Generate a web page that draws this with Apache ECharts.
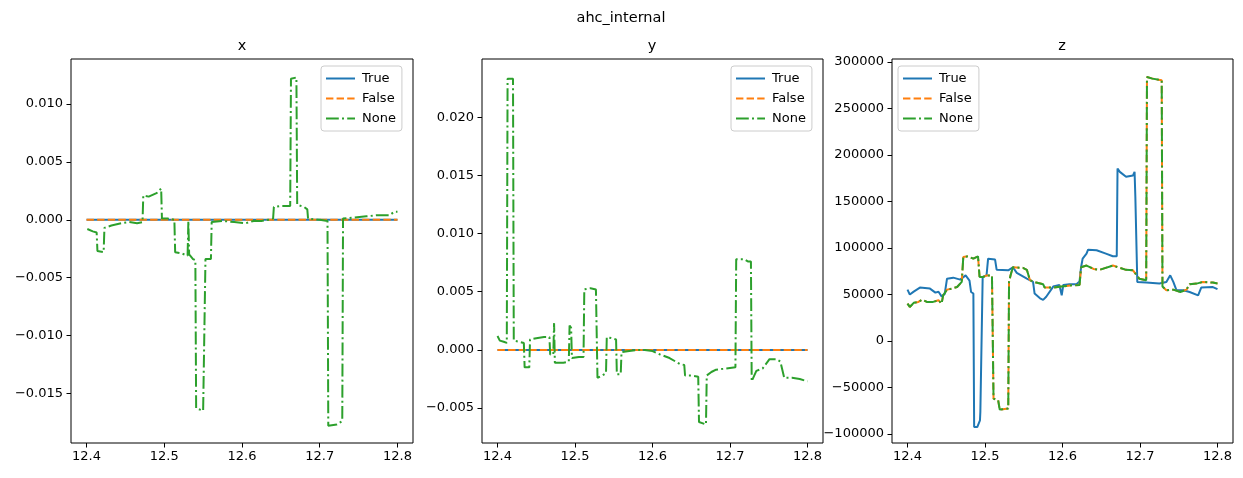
<!DOCTYPE html>
<html>
<head>
<meta charset="utf-8">
<title>ahc_internal</title>
<script src="https://cdn.jsdelivr.net/npm/echarts@6/dist/echarts.min.js"></script>
<style>
  html, body { margin: 0; padding: 0; background: #fff; }
  #chart { width: 1243px; height: 478px; }
</style>
</head>
<body>
<div id="chart"></div>
<script>
// tick values
const timeTicks = [12.4, 12.5, 12.6, 12.7, 12.8];
const xTicks = [-0.015, -0.010, -0.005, 0, 0.005, 0.010];
const yTicks = [-0.005, 0, 0.005, 0.010, 0.015, 0.020];
const zTicks = [-100000, -50000, 0, 50000, 100000, 150000, 200000, 250000, 300000];

const legendNames = ['True', 'False', 'None'];

// x panel
const xTrue = [[12.4, 0], [12.8, 0]];
const xFalse = [[12.4, 0], [12.8, 0]];
const xNone = [
  [12.401, -0.0008], [12.408, -0.0010], [12.413, -0.0011], [12.414, -0.0027], [12.422, -0.0028],
  [12.423, -0.0007], [12.432, -0.0005], [12.445, -0.0003], [12.455, -0.0002], [12.465, -0.0003],
  [12.472, -0.0002], [12.473, 0.0021], [12.480, 0.0020], [12.490, 0.0023], [12.496, 0.0027],
  [12.497, 0.0001], [12.505, 0.0001], [12.513, 0.0000], [12.514, -0.0028], [12.522, -0.0029],
  [12.530, -0.0031], [12.531, -0.0001], [12.532, -0.0030], [12.537, -0.0034], [12.540, -0.0035],
  [12.541, -0.0163], [12.550, -0.0165], [12.553, -0.0034], [12.560, -0.0034], [12.561, -0.0002],
  [12.575, -0.0001], [12.590, -0.0002], [12.605, -0.0003], [12.615, -0.0001], [12.625, -0.0001],
  [12.635, 0.0000], [12.640, 0.0001], [12.641, 0.0011], [12.650, 0.0012], [12.662, 0.0012],
  [12.663, 0.0122], [12.670, 0.0123], [12.671, 0.0013], [12.680, 0.0011], [12.684, 0.0009],
  [12.685, 0.0001], [12.700, 0.0000], [12.710, -0.0001], [12.711, -0.0178], [12.722, -0.0177],
  [12.729, -0.0174], [12.730, 0.0001], [12.745, 0.0002], [12.760, 0.0003], [12.775, 0.0004],
  [12.790, 0.0004], [12.796, 0.0007], [12.800, 0.0007]
];

// y panel
const yTrue = [[12.4, 0], [12.8, 0]];
const yFalse = [[12.4, 0], [12.8, 0]];
const yNone = [
  [12.400, 0.0012], [12.403, 0.0008], [12.408, 0.0007], [12.412, 0.0006], [12.413, 0.0233],
  [12.420, 0.0233], [12.421, 0.0008], [12.428, 0.0007], [12.434, 0.0006], [12.435, -0.0015],
  [12.441, -0.0015], [12.442, 0.0009], [12.450, 0.0010], [12.460, 0.0011], [12.467, 0.0011],
  [12.468, -0.0004], [12.472, -0.0004], [12.473, 0.0023], [12.474, -0.0011], [12.485, -0.0011],
  [12.492, -0.0010], [12.493, 0.0021], [12.495, 0.0019], [12.496, -0.0007], [12.505, -0.0006],
  [12.511, -0.0006], [12.512, 0.0052], [12.520, 0.0053], [12.527, 0.0052], [12.529, -0.0024],
  [12.535, -0.0022], [12.540, -0.0020], [12.541, 0.0011], [12.548, 0.0010], [12.553, 0.0009],
  [12.554, -0.0021], [12.559, -0.0021], [12.560, -0.0002], [12.570, -0.0001], [12.580, 0.0000],
  [12.590, 0.0000], [12.600, -0.0001], [12.610, -0.0004], [12.622, -0.0007], [12.635, -0.0012],
  [12.641, -0.0013], [12.642, -0.0022], [12.650, -0.0022], [12.659, -0.0023], [12.660, -0.0062],
  [12.669, -0.0064], [12.670, -0.0022], [12.676, -0.0019], [12.682, -0.0017], [12.695, -0.0016],
  [12.707, -0.0015], [12.708, 0.0078], [12.718, 0.0078], [12.723, 0.0076], [12.727, 0.0076],
  [12.728, -0.0027], [12.734, -0.0018], [12.742, -0.0016], [12.751, -0.0008], [12.760, -0.0008],
  [12.765, -0.0010], [12.770, -0.0024], [12.780, -0.0024], [12.790, -0.0025], [12.800, -0.0027]
];

// z panel
const zTrue = [
  [12.400, 55300], [12.403, 49900], [12.408, 53100], [12.416, 57400], [12.429, 56300],
  [12.436, 52000], [12.440, 53000], [12.444, 48000], [12.448, 50500], [12.451, 67000],
  [12.459, 68100], [12.468, 66000], [12.475, 70500], [12.480, 65000], [12.482, 52700],
  [12.485, 51000], [12.486, -92500], [12.490, -92500], [12.4935, -85300], [12.494, -76300],
  [12.496, -76300], [12.497, 68900], [12.502, 70500], [12.504, 88500], [12.513, 87500],
  [12.515, 76700], [12.530, 76000], [12.536, 79300], [12.541, 73300], [12.554, 67000],
  [12.562, 63500], [12.564, 51000], [12.571, 45900], [12.575, 44200], [12.579, 47500],
  [12.588, 58500], [12.596, 60200], [12.599, 49100], [12.601, 60200], [12.609, 61100],
  [12.618, 61000], [12.622, 64000], [12.624, 79600], [12.626, 88500], [12.631, 93900],
  [12.633, 98200], [12.644, 97500], [12.656, 93900], [12.665, 91100], [12.670, 91100],
  [12.671, 185400], [12.674, 181800], [12.682, 176500], [12.691, 178000], [12.693, 181800],
  [12.694, 155000], [12.696, 153300], [12.6965, 63500], [12.699, 61800], [12.708, 63000],
  [12.725, 61800], [12.734, 63500], [12.739, 70600], [12.743, 63500], [12.747, 54700],
  [12.756, 54500], [12.764, 52700], [12.775, 49100], [12.779, 57400], [12.794, 58000],
  [12.800, 55700]
];
const zFalse = [
  [12.400, 40200], [12.403, 36600], [12.408, 41000], [12.414, 42000], [12.419, 44500],
  [12.425, 42000], [12.433, 42000], [12.440, 43800], [12.444, 40200], [12.446, 49100],
  [12.451, 55200], [12.457, 56300], [12.464, 58000], [12.470, 63500], [12.472, 90300],
  [12.478, 91000], [12.485, 88500], [12.491, 91000], [12.493, 68900], [12.498, 68900],
  [12.502, 70500], [12.509, 70500], [12.511, -62000], [12.517, -63800], [12.519, -73800],
  [12.530, -72700], [12.531, 63500], [12.533, 70600], [12.536, 79300], [12.549, 78600],
  [12.554, 76500], [12.558, 65400], [12.566, 62800], [12.575, 61000], [12.577, 57400],
  [12.588, 57400], [12.601, 58800], [12.613, 59900], [12.622, 60200], [12.624, 79300],
  [12.631, 81100], [12.640, 77500], [12.648, 76500], [12.665, 81100], [12.674, 78600],
  [12.682, 76500], [12.691, 76000], [12.699, 67000], [12.708, 65400], [12.709, 283900],
  [12.716, 282100], [12.728, 280300], [12.729, 58500], [12.734, 54500], [12.743, 55200],
  [12.752, 52700], [12.760, 55200], [12.764, 61000], [12.773, 61700], [12.781, 63500],
  [12.794, 62800], [12.800, 61900]
];
// None sits exactly on top of False here
const zNone = zFalse;

const colors = { True: '#1f77b4', False: '#ff7f0e', None: '#2ca02c' };
const dashes = { True: 'solid', False: [7.4, 3.2], None: [12.8, 3.2, 2, 3.2] };

const font = 'DejaVu Sans';
const minus = '\u2212';

function fmt(digits) {
  return function (v) {
    const s = Math.abs(v).toFixed(digits);
    return (v < 0 ? minus : '') + s;
  };
}

// pixel boxes of the three panels
const boxes = [
  { left: 71, right: 830 },
  { left: 482, right: 420 },
  { left: 892, right: 10 }
];

const chart = echarts.init(document.getElementById('chart'));

function timeAxis(i) {
  return {
    type: 'value', gridIndex: i, min: 12.38, max: 12.82,
    axisLine: { show: false, onZero: false },
    axisTick: { show: true, length: 4.5, customValues: timeTicks, lineStyle: { color: '#000' } },
    axisLabel: { customValues: timeTicks, formatter: fmt(1), color: '#000', fontSize: 13, margin: 7, fontFamily: font },
    splitLine: { show: false }
  };
}

function valueAxis(i, min, max, ticks, digits) {
  return {
    type: 'value', gridIndex: i, min: min, max: max,
    axisLine: { show: false, onZero: false },
    axisTick: { show: true, length: 4.5, customValues: ticks, lineStyle: { color: '#000' } },
    axisLabel: { customValues: ticks, formatter: fmt(digits), color: '#000', fontSize: 13, margin: 8, fontFamily: font },
    splitLine: { show: false }
  };
}

function line(name, data, i) {
  return {
    name: name, type: 'line', xAxisIndex: i, yAxisIndex: i, data: data,
    symbol: 'none', showSymbol: false,
    color: colors[name],
    lineStyle: { width: 2, type: dashes[name], color: colors[name] },
    emphasis: { disabled: true }
  };
}

function legend(left) {
  return {
    data: legendNames, orient: 'vertical', left: left, top: 66,
    itemWidth: 29, itemHeight: 14, itemGap: 7,
    padding: [6, 6, 6, 4],
    itemStyle: { opacity: 0 },
    borderColor: '#cccccc', borderWidth: 1, borderRadius: 3,
    backgroundColor: 'rgba(255,255,255,0.8)',
    textStyle: { fontSize: 13, fontFamily: font, color: '#000', width: 40, padding: [0, 0, 0, 2] }
  };
}

const option = {
  animation: false,
  backgroundColor: '#fff',
  grid: boxes.map(b => ({
    left: b.left, right: b.right, top: 59, bottom: 35,
    show: true, borderColor: '#000', borderWidth: 1, backgroundColor: 'transparent'
  })),
  xAxis: [timeAxis(0), timeAxis(1), timeAxis(2)],
  yAxis: [
    valueAxis(0, -0.0193, 0.0139, xTicks, 3),
    valueAxis(1, -0.0080, 0.0250, yTicks, 3),
    valueAxis(2, -109700, 303200, zTicks, 0)
  ],
  legend: [legend(321), legend(731), legend(898)],
  graphic: [
    { type: 'text', x: 621, y: 18, style: { text: 'ahc_internal', font: '14.5px "DejaVu Sans"', fill: '#000', align: 'center', verticalAlign: 'middle' } },
    { type: 'text', x: 242, y: 46, style: { text: 'x', font: '14.5px "DejaVu Sans"', fill: '#000', align: 'center', verticalAlign: 'middle' } },
    { type: 'text', x: 652, y: 46, style: { text: 'y', font: '14.5px "DejaVu Sans"', fill: '#000', align: 'center', verticalAlign: 'middle' } },
    { type: 'text', x: 1062, y: 46, style: { text: 'z', font: '14.5px "DejaVu Sans"', fill: '#000', align: 'center', verticalAlign: 'middle' } }
  ],
  series: [
    line('True', xTrue, 0), line('False', xFalse, 0), line('None', xNone, 0),
    line('True', yTrue, 1), line('False', yFalse, 1), line('None', yNone, 1),
    line('True', zTrue, 2), line('False', zFalse, 2), line('None', zNone, 2)
  ]
};

chart.setOption(option);
</script>
</body>
</html>
